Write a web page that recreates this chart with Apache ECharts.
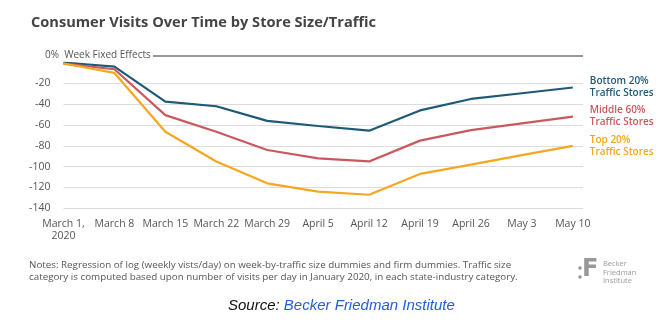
<!DOCTYPE html>
<html><head><meta charset="utf-8">
<script src="https://cdn.jsdelivr.net/npm/echarts@6/dist/echarts.min.js"></script>
<style>html,body{margin:0;padding:0;background:#fff}#c{width:672px;height:330px}</style>
</head><body><div id="c"></div>
<script>
const categories = ['March 1,\n2020','March 8','March 15','March 22','March 29','April 5','April 12','April 19','April 26','May 3','May 10'];
const bottom20 = [0,-4,-37.5,-42,-56,-61,-65.5,-46,-35,-29.5,-24];
const middle60 = [-1,-6.5,-50.5,-66.5,-84,-92,-95,-75,-65,-58.5,-52];
const top20 = [-1,-10,-66.5,-95,-116,-124,-127,-107,-98,-89,-80];
const yTicks = [-140,-120,-100,-80,-60,-40,-20,0];
const seriesNames = ['Bottom 20%\nTraffic Stores','Middle 60%\nTraffic Stores','Top 20%\nTraffic Stores'];
const colors = ['#1d5a78','#c9585f','#f6a71f'];

const chart = echarts.init(document.getElementById('c'), null, {renderer:'canvas'});
const FONT = 'Open Sans';
function mk(name, vals, color){
  return {
    type:'line', name, data: vals.map((v,i)=>[i,v]), symbol:'none', smooth:false,
    lineStyle:{color, width:2.2}, itemStyle:{color},
    endLabel:{show:true, formatter: name, color, fontFamily:FONT, fontSize:10, fontWeight:600, lineHeight:12, distance:17, align:'left'},
    emphasis:{disabled:true}, animation:false
  };
}
chart.setOption({
  animation:false,
  textStyle:{fontFamily:FONT},
  title:{text:'Consumer Visits Over Time by Store Size/Traffic', left:26, top:10,
    textStyle:{fontFamily:FONT, fontSize:14.6, fontWeight:700, color:'#444'}},
  grid:{left:63.5, right:89, top:62.5, bottom:121.7, containLabel:false},
  xAxis:{type:'value', min:0, max:10.2, interval:1,
    axisLine:{show:false}, axisTick:{show:false}, splitLine:{show:false},
    axisLabel:{color:'#555', fontSize:10.5, fontFamily:FONT, margin:10, lineHeight:12,
      formatter:(v)=> Number.isInteger(v) && categories[v] ? categories[v] : ''}},
  yAxis:{type:'value', min:yTicks[0], max:yTicks[yTicks.length-1], interval:20,
    axisLine:{show:false}, axisTick:{show:false},
    axisLabel:{color:'#555', fontSize:10.5, fontFamily:FONT, margin:13, formatter:(v)=> v===0?'':String(v)},
    splitLine:{show:true, lineStyle:{color:['#dcdcdc','#dcdcdc','#dcdcdc','#dcdcdc','#dcdcdc','#dcdcdc','#dcdcdc','rgba(0,0,0,0)'], width:1.2}}},
  series:[mk(seriesNames[0],bottom20,colors[0]), mk(seriesNames[1],middle60,colors[1]), mk(seriesNames[2],top20,colors[2])],
  graphic:[
    {type:'text', left:45, top:50, style:{text:'0%  Week Fixed Effects', fill:'#555', font:'10px "Open Sans"'}},
    {type:'line', shape:{x1:153,y1:56,x2:583,y2:56}, style:{stroke:'#999', lineWidth:2}},
    {type:'text', left:29, top:259, style:{text:'Notes: Regression of log (weekly vists/day) on week-by-traffic size dummies and firm dummies. Traffic size\ncategory is computed based upon number of visits per day in January 2020, in each state-industry category.', fill:'#555', font:'9.8px "Open Sans"', lineHeight:12}},
    {type:'text', left:603, top:260, style:{text:'Becker\nFriedman\nInstitute', fill:'#999', font:'7.5px "Open Sans"', lineHeight:8.5}},
    {type:'text', left:582, top:258, style:{text:'F', fill:'#999', font:'bold 24px "DejaVu Sans"'}},
    {type:'circle', shape:{cx:580, cy:268, r:1.8}, style:{fill:'#999'}},
    {type:'circle', shape:{cx:580, cy:277, r:1.8}, style:{fill:'#999'}},
    {type:'text', left:228, top:298, style:{rich:{a:{fill:'#111', font:'italic 15px "Liberation Sans"'}, b:{fill:'#1f5fd6', font:'italic 15px "Liberation Sans"'}}, text:'{a|Source: }{b|Becker Friedman Institute}'}}
  ]
});
</script></body></html>
